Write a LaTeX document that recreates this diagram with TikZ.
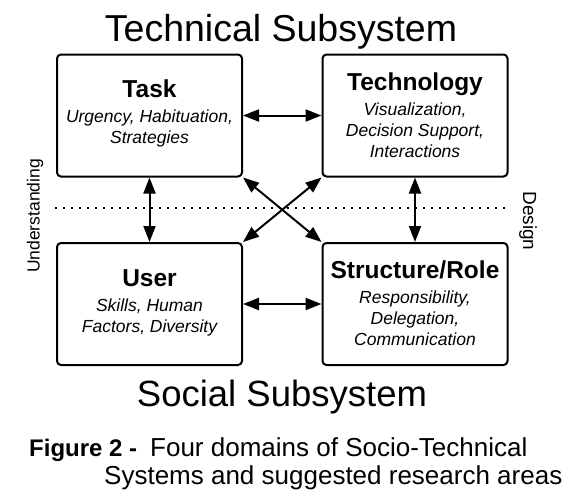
\documentclass[tikz,border=0pt]{standalone}
\usepackage{fontspec}
\setmainfont{Liberation Sans}
\usetikzlibrary{arrows.meta}
\begin{document}
\begin{tikzpicture}[x=1pt,y=-1pt,
  box/.style={draw, line width=2pt, rounded corners=4pt, minimum width=185pt, minimum height=122pt, inner sep=0pt},
  ttl/.style={font=\fontsize{24.5}{28}\selectfont\bfseries, anchor=base, inner sep=0pt},
  dsc/.style={font=\fontsize{17.5}{21}\selectfont\itshape, anchor=base, inner sep=0pt},
  link/.style={line width=2pt, {Triangle[length=16pt,width=12pt]}-{Triangle[length=16pt,width=12pt]}},
  side/.style={font=\fontsize{17.5}{20}\selectfont, inner sep=0pt},
  big/.style={anchor=base, inner sep=0pt},
  captxt/.style={anchor=base west, inner sep=0pt, font=\fontsize{26}{29}\selectfont}
]
\useasboundingbox[fill=white] (0,0) rectangle (582,498);
% boxes
\node[box] (task)   at (149.5,115.5) {};
\node[box] (tech)   at (415,115.5) {};
\node[box] (user)   at (149.5,304) {};
\node[box] (struct) at (415,304) {};
% texts
\node[ttl] (taskt) at (149.5,97) {Task};
\node[dsc] (taskd) at (149.5,122.7) {\begin{tabular}[t]{@{}c@{}}Urgency, Habituation,\\Strategies\end{tabular}};
\node[ttl] (techt) at (415,90.7) {Technology};
\node[dsc] (techd) at (415,115.5) {\begin{tabular}[t]{@{}c@{}}Visualization,\\Decision Support,\\Interactions\end{tabular}};
\node[ttl] (usert) at (149.5,286) {User};
\node[dsc] (userd) at (149.5,311) {\begin{tabular}[t]{@{}c@{}}Skills, Human\\Factors, Diversity\end{tabular}};
\node[ttl] (structt) at (415,278) {Structure/Role};
\node[dsc] (structd) at (415,303) {\begin{tabular}[t]{@{}c@{}}Responsibility,\\Delegation,\\Communication\end{tabular}};
% dotted line
\coordinate (dl) at (55,208);
\coordinate (dr) at (505,208);
\draw[line width=2pt, dash pattern=on 2pt off 6pt] (dl) -- (dr);
% connectors
\draw[link] (task) -- (tech);
\draw[link] (user) -- (struct);
\draw[link] (task) -- (user);
\draw[link] (tech) -- (struct);
\draw[link] (task.south east) -- (struct.north west);
\draw[link] (tech.south west) -- (user.north east);
% side labels
\node[side, rotate=90] (und) at (35,216) {Understanding};
\node[side, rotate=-90, font=\fontsize{19}{22}\selectfont] (des) at (528,221) {Design};
% titles
\node[big, font=\fontsize{37.5}{40}\selectfont] (techsub) at (281,41.7) {Technical Subsystem};
\node[big, font=\fontsize{36.5}{40}\selectfont] (socsub) at (282,406.5) {Social Subsystem};
% caption
\node[captxt, font=\fontsize{24}{28}\selectfont\bfseries] (fig) at (29,456) {Figure 2 -};
\node[captxt] (cap1) at (150,456) {Four domains of Socio-Technical};
\node[captxt] (cap2) at (104,484) {Systems and suggested research areas};
\end{tikzpicture}
\end{document}
